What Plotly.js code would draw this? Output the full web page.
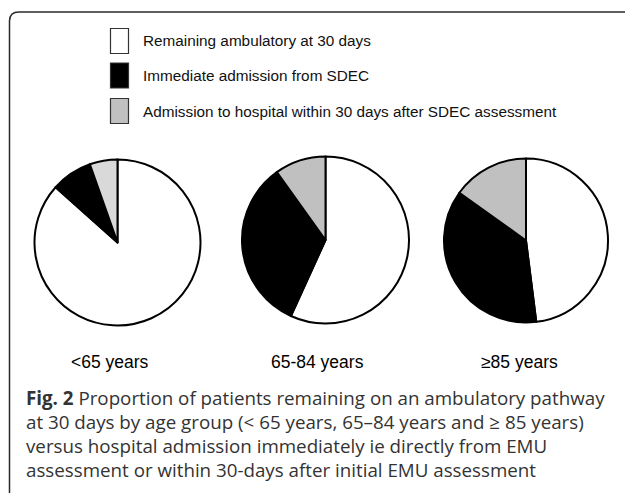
<!DOCTYPE html>
<html>
<head>
<meta charset="utf-8">
<script src="https://cdn.plot.ly/plotly-3.0.1.min.js"></script>
<style>html,body{margin:0;padding:0;background:#fff;}#chart{width:625px;height:493px;}</style>
</head>
<body>
<div id="chart"></div>
<script>
// ---- data ----
const categories = ["Remaining ambulatory at 30 days", "Immediate admission from SDEC", "Admission to hospital within 30 days after SDEC assessment"];
const ageGroups = ["<65 years", "65-84 years", "\u226585 years"];
const under65 = [86.6, 8.0, 5.4];
const age65to84 = [56.8, 33.3, 9.9];
const age85plus = [48.0, 36.9, 15.1];
const captionLines = [
  "<b>Fig. 2</b> Proportion of patients remaining on an ambulatory pathway",
  "at 30 days by age group (< 65 years, 65\u201384 years and \u2265 85 years)",
  "versus hospital admission immediately ie directly from EMU",
  "assessment or within 30-days after initial EMU assessment"
];

// ---- layout helpers (pixels -> paper) ----
const W = 625, H = 493;
const px = x => x / W;
const py = y => 1 - y / H;

const seriesValues = [under65, age65to84, age85plus];
const pieCenters = [[117.5, 242.5], [325.5, 240], [526, 240.5]];
const pieR = [83, 83.5, 82];
const pieColors = [
  ["#ffffff", "#000000", "#d9d9d9"],
  ["#ffffff", "#000000", "#c0c0c0"],
  ["#ffffff", "#000000", "#c0c0c0"]
];
const legendColors = ["#ffffff", "#000000", "#c0c0c0"];

const traces = seriesValues.map((vals, i) => {
  const [cx, cy] = pieCenters[i];
  const r = pieR[i];
  return {
    type: "pie",
    labels: categories,
    values: vals,
    sort: false,
    direction: "clockwise",
    rotation: 0,
    textinfo: "none",
    hoverinfo: "label+percent",
    showlegend: false,
    marker: { colors: pieColors[i], line: { color: "#000000", width: 2 } },
    domain: { x: [px(cx - r), px(cx + r)], y: [py(cy + r), py(cy - r)] }
  };
});

const shapes = [];
const annotations = [];

// frame (rounded top-left corner)
shapes.push({
  type: "path", xref: "paper", yref: "paper",
  path: `M ${px(625)} ${py(12)} L ${px(19)} ${py(12)} Q ${px(9.5)} ${py(12)} ${px(9.5)} ${py(21)} L ${px(9.5)} ${py(493)}`,
  line: { color: "#2a2a2a", width: 1.5 }
});

// legend boxes and labels
const legendY = [41, 75.5, 111];
categories.forEach((c, i) => {
  const yc = legendY[i];
  shapes.push({
    type: "rect", xref: "paper", yref: "paper",
    x0: px(110.5), x1: px(128.5), y0: py(yc + 12.5), y1: py(yc - 12.5),
    fillcolor: legendColors[i], line: { color: "#333333", width: 1.2 }
  });
  annotations.push({
    xref: "paper", yref: "paper", x: px(141), y: py(yc),
    xanchor: "left", yanchor: "middle", showarrow: false,
    text: c, font: { family: "Liberation Sans, Arial, sans-serif", size: 15.3, color: "#111111" }
  });
});

// age group labels
const labelX = [110, 317, 519];
ageGroups.forEach((g, i) => {
  annotations.push({
    xref: "paper", yref: "paper", x: px(labelX[i]), y: py(362),
    xanchor: "center", yanchor: "middle", showarrow: false,
    text: g, font: { family: "Liberation Sans, Arial, sans-serif", size: 17.5, color: "#000000" }
  });
});

// caption
const capY = [397, 421, 445, 469];
captionLines.forEach((t, i) => {
  annotations.push({
    xref: "paper", yref: "paper", x: px(24), y: py(capY[i]),
    xanchor: "left", yanchor: "middle", showarrow: false,
    text: t, font: { family: "Open Sans, sans-serif", size: 18.75, color: "#333333" }
  });
});

const layout = {
  width: W, height: H, autosize: false,
  margin: { l: 0, r: 0, t: 0, b: 0, pad: 0 },
  paper_bgcolor: "#ffffff", plot_bgcolor: "#ffffff",
  showlegend: false,
  shapes: shapes,
  annotations: annotations
};

Plotly.newPlot("chart", traces, layout, { displayModeBar: false, staticPlot: true });
</script>
</body>
</html>
